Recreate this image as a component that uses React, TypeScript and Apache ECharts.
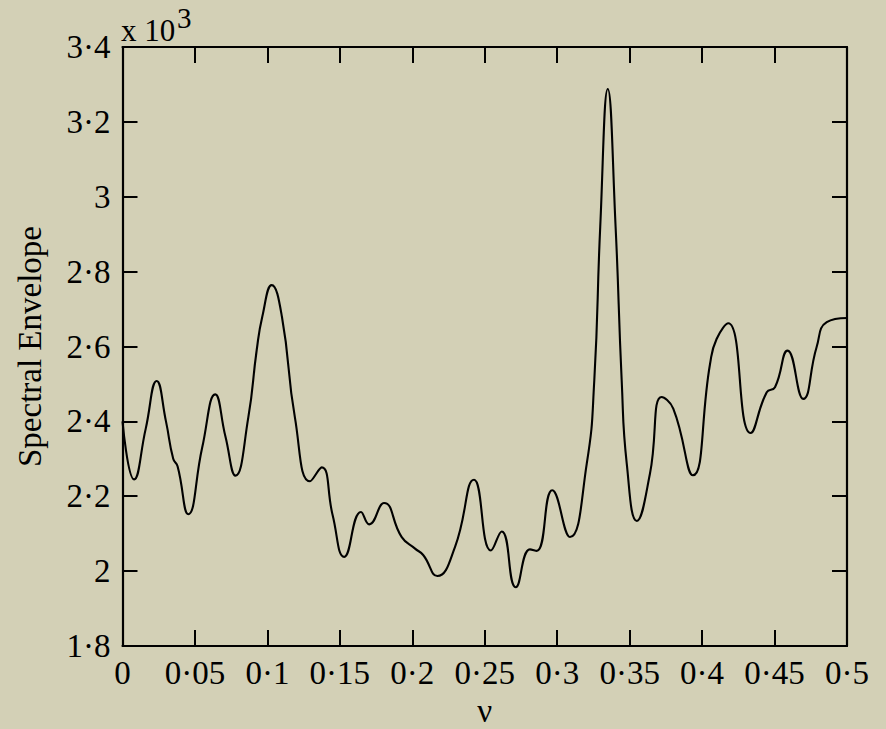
import React, { useEffect, useRef } from "react";
import * as echarts from "echarts";

// Frequency (cycles per point) and spectral envelope (in thousands)
const nu = [
  0.0, 0.008, 0.016, 0.0236, 0.03, 0.035, 0.038, 0.0454, 0.055, 0.064, 0.071,
  0.078, 0.0868, 0.0926, 0.0965, 0.103, 0.11, 0.119, 0.1294, 0.1375, 0.145,
  0.153, 0.1646, 0.1703, 0.1805, 0.1927, 0.2019, 0.2075, 0.2173, 0.2295,
  0.2426, 0.2543, 0.2617, 0.2714, 0.2812, 0.2859, 0.2966, 0.3088, 0.3204,
  0.3256, 0.3297, 0.3349, 0.3403, 0.3445, 0.348, 0.355, 0.364, 0.3721, 0.3801,
  0.3937, 0.4055, 0.41, 0.4181, 0.4335, 0.4446, 0.4503, 0.459, 0.4698, 0.479,
  0.486, 0.5,
];
const envelope = [
  2.4, 2.245, 2.38, 2.508, 2.4, 2.3, 2.28, 2.152, 2.33, 2.472, 2.36,
  2.255, 2.41, 2.59, 2.68, 2.764, 2.68, 2.41, 2.24, 2.277, 2.15,
  2.038, 2.158, 2.125, 2.182, 2.091, 2.06, 2.043, 1.987, 2.065,
  2.244, 2.055, 2.106, 1.957, 2.058, 2.054, 2.216, 2.091, 2.287,
  2.51, 2.92, 3.288, 2.92, 2.51, 2.287, 2.134, 2.26, 2.465, 2.434,
  2.256, 2.554, 2.62, 2.662, 2.369, 2.478, 2.491, 2.589, 2.46, 2.598,
  2.665, 2.676,
];

const xTicks = { min: 0, max: 0.5, interval: 0.05 };
const yTicks = { min: 1.8, max: 3.4, interval: 0.2 };

const FONT = "'Liberation Serif', 'Times New Roman', serif";
const INK = "#000000";
const PAPER = "#d3d0b6";

const dotted = (v: number) =>
  String(Number(v.toFixed(3))).replace(".", "\u00b7");

export default function App() {
  const ref = useRef<HTMLDivElement>(null);

  useEffect(() => {
    if (!ref.current) return;
    const chart = echarts.init(ref.current, null, { renderer: "svg" });

    const axisLine = { show: true, onZero: false, lineStyle: { color: INK, width: 2.2 } };
    const tick = (len: number) => ({
      show: true,
      inside: true,
      length: len,
      lineStyle: { color: INK, width: 2 },
    });
    const label = {
      color: INK,
      fontFamily: FONT,
      fontSize: 33,
      formatter: (v: number) => dotted(v),
    };

    chart.setOption({
      animation: false,
      backgroundColor: PAPER,
      grid: {
        left: 122.5,
        right: 39,
        top: 47,
        bottom: 83,
        outerBoundsMode: "none",
        containLabel: false,
      },
      graphic: [
        {
          type: "text",
          left: 121,
          top: 15,
          style: {
            text: "x 10",
            fontFamily: FONT,
            fontSize: 31,
            fill: INK,
          },
        },
        {
          type: "text",
          left: 177,
          top: 3,
          style: {
            text: "3",
            fontFamily: FONT,
            fontSize: 29,
            fill: INK,
          },
        },
      ],
      xAxis: [
        {
          type: "value",
          position: "bottom",
          ...xTicks,
          name: "\u03bd",
          nameLocation: "middle",
          nameGap: 48,
          nameTextStyle: { color: INK, fontFamily: FONT, fontSize: 33 },
          axisLine,
          axisTick: tick(16),
          axisLabel: { ...label, margin: 10 },
          splitLine: { show: false },
        },
        {
          type: "value",
          position: "top",
          ...xTicks,
          axisLine,
          axisTick: tick(16),
          axisLabel: { show: false },
          splitLine: { show: false },
        },
      ],
      yAxis: [
        {
          type: "value",
          position: "left",
          ...yTicks,
          name: "Spectral Envelope",
          nameLocation: "middle",
          nameRotate: 90,
          nameGap: 76,
          nameTextStyle: { color: INK, fontFamily: FONT, fontSize: 33 },
          axisLine,
          axisTick: tick(15),
          axisLabel: { ...label, margin: 12, padding: [5, 0, 0, 0] },
          splitLine: { show: false },
        },
        {
          type: "value",
          position: "right",
          ...yTicks,
          axisLine,
          axisTick: tick(15),
          axisLabel: { show: false },
          splitLine: { show: false },
        },
      ],
      series: [
        {
          type: "line",
          xAxisIndex: 0,
          yAxisIndex: 0,
          data: nu.map((v, i) => [v, envelope[i]]),
          showSymbol: false,
          smooth: 0.5,
          lineStyle: { color: INK, width: 2.1 },
          silent: true,
        },
      ],
    });

    return () => chart.dispose();
  }, []);

  return (
    <div
      ref={ref}
      style={{
        position: "fixed",
        left: 0,
        top: 0,
        width: 886,
        height: 729,
        background: PAPER,
      }}
    />
  );
}
